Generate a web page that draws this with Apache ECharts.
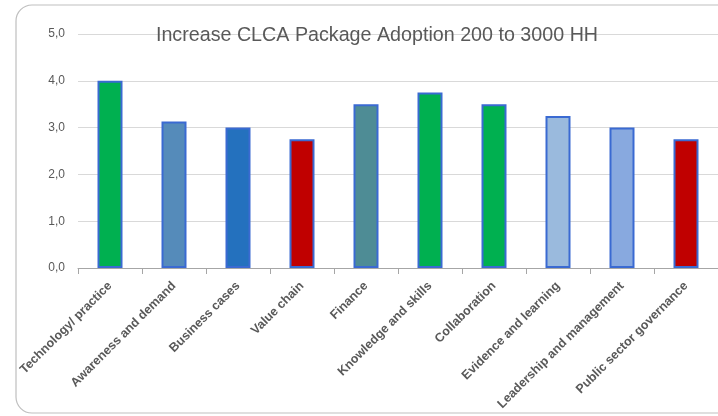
<!DOCTYPE html>
<html><head><meta charset="utf-8">
<script src="https://cdn.jsdelivr.net/npm/echarts@6/dist/echarts.min.js"></script>
<style>html,body{margin:0;padding:0;background:#fff}#c{width:718px;height:416px}</style>
</head><body><div id="c"></div>
<script>
var titleText = 'Increase CLCA Package Adoption 200 to 3000 HH';
var categories = ['Technology/ practice','Awareness and demand','Business cases','Value chain','Finance','Knowledge and skills','Collaboration','Evidence and learning','Leadership and management','Public sector governance'];
var values = [4.0, 3.13, 3.0, 2.75, 3.5, 3.75, 3.5, 3.25, 3.0, 2.75];
var barColors = ['#00B050','#558BBA','#2471BE','#C00000','#4E8C95','#00B050','#00B050','#9ABADD','#88A9DF','#C00000'];
var yTicks = [0,1,2,3,4,5];

var chart = echarts.init(document.getElementById('c'), null, {renderer:'canvas'});
var font = '"Liberation Sans", "Open Sans", sans-serif';
chart.setOption({
  animation:false,
  graphic:[{type:'rect', shape:{x:16,y:5,width:740,height:408,r:16}, style:{fill:'none',stroke:'#BFBFBF',lineWidth:1.2}, z:-1}],
  title:{text:titleText, left:372, textAlign:'center', top:21, textStyle:{fontFamily:font, fontSize:19.7, fontWeight:'normal', color:'#595959'}},
  grid:{left:78, right:-9, top:34, bottom:148, containLabel:false},
  xAxis:[{type:'category', data:categories, boundaryGap:true,
    axisLine:{lineStyle:{color:'#A6A6A6', width:1}},
    axisTick:{show:true, alignWithLabel:false, length:6, lineStyle:{color:'#A6A6A6'}},
    axisLabel:{rotate:45, interval:0, margin:16, fontFamily:font, fontSize:12.5, fontWeight:'bold', color:'#595959'}},
   {type:'category', data:categories, position:'bottom', boundaryGap:true,
    axisLine:{show:false}, axisLabel:{show:false},
    axisTick:{show:true, alignWithLabel:true, inside:true, length:5, lineStyle:{color:'#A6A6A6'}}}],
  yAxis:{type:'value', min:0, max:5, interval:1,
    axisLine:{show:false}, axisTick:{show:false},
    splitLine:{lineStyle:{color:'#D9D9D9', width:1}},
    axisLabel:{margin:13, fontFamily:font, fontSize:12, color:'#595959',
      formatter:function(v){return yTicks.indexOf(v)>=0 ? v.toFixed(1).replace('.',',') : '';}}},
  series:[{type:'bar', xAxisIndex:0, barWidth:25,
    data: values.map(function(v,i){return {value:v, itemStyle:{color:barColors[i]}};}),
    itemStyle:{borderColor:'#3A6AD2', borderWidth:2}}]
});
</script></body></html>
